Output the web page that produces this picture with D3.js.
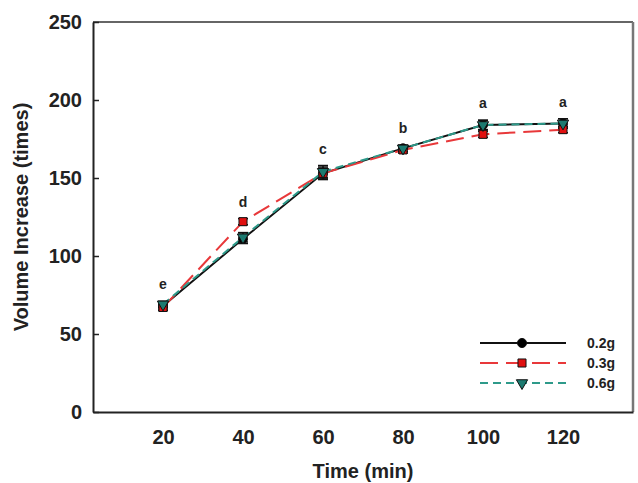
<!DOCTYPE html>
<meta charset="utf-8">
<head>
<style>
body { margin: 0; background: #fff; }
text { font-family: "Liberation Sans", Arial, sans-serif; font-weight: bold; fill: #222; }
</style>
</head>
<body>
<svg width="638" height="483"></svg>
<script src="https://d3js.org/d3.v7.min.js"></script>
<script>
// data
const times = [20, 40, 60, 80, 100, 120];
const v02 = [68, 111, 153, 169, 184, 185];
const v03 = [67, 122, 153, 168, 178, 181];
const v06 = [69, 112, 154, 169, 184, 185];
const e02 = [2, 3, 4, 2, 3, 3];
const e03 = [2, 2, 3, 2, 2, 2];
const e06 = [2, 3, 4, 2, 3, 3];
const letters = ['e', 'd', 'c', 'b', 'a', 'a'];
const yTicks = [0, 50, 100, 150, 200, 250];
const seriesNames = ['0.2g', '0.3g', '0.6g'];

let svg = d3.select('svg');
let margin = { top: 22, right: 5, bottom: 71, left: 93 };
let width = 540;
let height = 390;

let x = d3.scaleLinear().domain([2.5, 137.5]).range([0, width]);
let y = d3.scaleLinear().domain([0, 250]).range([height, 0]);

let g = svg.append('g')
    .attr('transform', `translate(${margin.left}, ${margin.top})`);

const series = [
    { name: seriesNames[0], vals: v02, err: e02, color: '#111', dash: null, shape: d3.symbolCircle, fill: '#000' },
    { name: seriesNames[1], vals: v03, err: e03, color: '#e8383a', dash: '18,8', shape: d3.symbolSquare, fill: '#e01010' },
    { name: seriesNames[2], vals: v06, err: e06, color: '#2e9a8a', dash: '8,5', shape: d3.symbolTriangle, fill: '#1c7a70' }
];

// frame: top / right grey
g.append('line').attr('x1', 0).attr('x2', width).attr('y1', 0).attr('y2', 0)
    .attr('stroke', '#666').attr('stroke-width', 2);
g.append('line').attr('x1', width).attr('x2', width).attr('y1', 0).attr('y2', height)
    .attr('stroke', '#777').attr('stroke-width', 2.5);

// y axis
let yAxis = g.append('g')
    .call(d3.axisLeft(y).tickValues(yTicks).tickSizeInner(-6).tickSizeOuter(0).tickPadding(11));
yAxis.select('.domain').attr('stroke', '#222').attr('stroke-width', 2);
yAxis.selectAll('.tick line').attr('stroke', '#222').attr('stroke-width', 1.5);
yAxis.selectAll('.tick text').style('font-size', '20px').attr('fill', '#222');

// x axis
let xAxis = g.append('g')
    .attr('transform', `translate(0, ${height})`)
    .call(d3.axisBottom(x).tickValues(times).tickSize(0).tickPadding(18));
xAxis.select('.domain').attr('stroke', '#222').attr('stroke-width', 2);
xAxis.selectAll('.tick text').style('font-size', '20px').attr('fill', '#222');

// axis titles
svg.append('text')
    .attr('transform', `translate(21, ${margin.top + height / 2}) rotate(-90)`)
    .attr('text-anchor', 'middle')
    .attr('dominant-baseline', 'central')
    .style('font-size', '20px')
    .text('Volume Increase (times)');

svg.append('text')
    .attr('x', margin.left + width / 2)
    .attr('y', 478)
    .attr('text-anchor', 'middle')
    .style('font-size', '20px')
    .text('Time (min)');

let line = d3.line()
    .x((d, i) => x(times[i]))
    .y((d) => y(d));

series.forEach((s) => {
    g.append('path')
        .datum(s.vals)
        .attr('fill', 'none')
        .attr('stroke', s.color)
        .attr('stroke-width', 2)
        .attr('stroke-dasharray', s.dash)
        .attr('d', line);
});

// error bars
series.forEach((s) => {
    let eb = g.append('g').attr('stroke', '#111').attr('stroke-width', 1.5);
    s.vals.forEach((v, i) => {
        let cx = x(times[i]);
        eb.append('line').attr('x1', cx).attr('x2', cx)
            .attr('y1', y(v - s.err[i])).attr('y2', y(v + s.err[i]));
        [v - s.err[i], v + s.err[i]].forEach((t) => {
            eb.append('line').attr('x1', cx - 5).attr('x2', cx + 5)
                .attr('y1', y(t)).attr('y2', y(t));
        });
    });
});

// markers
series.forEach((s) => {
    g.selectAll(null)
        .data(s.vals)
        .enter().append('path')
            .attr('d', d3.symbol().type(s.shape).size(s.shape === d3.symbolTriangle ? 55 : 65))
            .attr('transform', (d, i) => `translate(${x(times[i])}, ${y(d)})` + (s.shape === d3.symbolTriangle ? ' rotate(180)' : ''))
            .attr('fill', s.fill)
            .attr('stroke', '#111')
            .attr('stroke-width', 1);
});

// significance letters
g.selectAll('.sig')
    .data(letters)
    .enter().append('text')
        .attr('class', 'sig')
        .attr('x', (d, i) => x(times[i]))
        .attr('y', (d, i) => y(d3.max(series, (s) => s.vals[i] + s.err[i])) - 12)
        .attr('text-anchor', 'middle')
        .style('font-size', '14px')
        .text((d) => d);

// legend
let legend = svg.append('g');
series.forEach((s, i) => {
    let ly = 343 + i * 20;
    legend.append('line')
        .attr('x1', 480).attr('x2', 566).attr('y1', ly).attr('y2', ly)
        .attr('stroke', s.color).attr('stroke-width', 2)
        .attr('stroke-dasharray', s.dash);
    legend.append('path')
        .attr('d', d3.symbol().type(s.shape).size(s.shape === d3.symbolTriangle ? 55 : 65))
        .attr('transform', `translate(522, ${ly})` + (s.shape === d3.symbolTriangle ? ' rotate(180)' : ''))
        .attr('fill', s.fill).attr('stroke', '#111').attr('stroke-width', 1);
    legend.append('text')
        .attr('x', 587).attr('y', ly + 5)
        .style('font-size', '14px')
        .text(s.name);
});
</script>
</body>
</html>
